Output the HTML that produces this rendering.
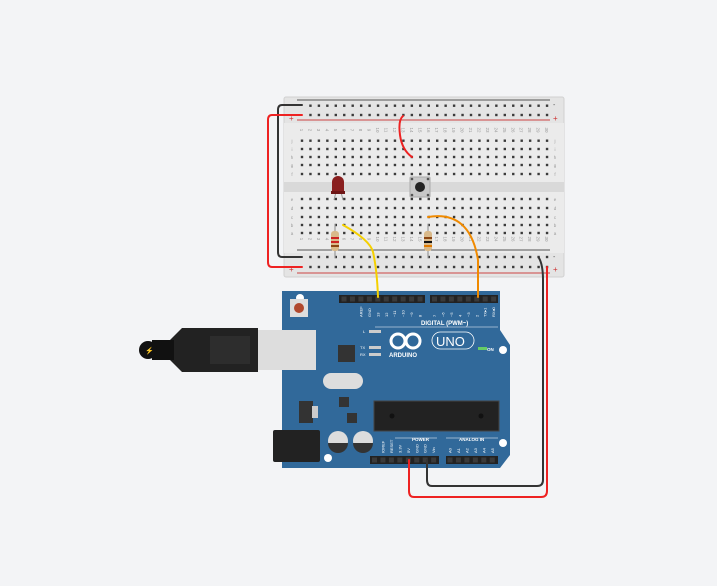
<!DOCTYPE html>
<html><head><meta charset="utf-8"><style>
html,body{margin:0;padding:0;background:#f3f4f6;}
svg{display:block;font-family:"Liberation Sans",sans-serif;}
</style></head><body>
<svg width="717" height="586" viewBox="0 0 717 586" xmlns="http://www.w3.org/2000/svg">
<rect x="284" y="97" width="280" height="180" rx="2" fill="#e4e4e4" stroke="#d0d0d0"/>
<rect x="284" y="123" width="280" height="130" fill="#ebebeb"/>
<rect x="284" y="182" width="280" height="10" fill="#d9d9d9"/>
<line x1="297" y1="100" x2="550" y2="100" stroke="#555" stroke-width="1"/>
<line x1="297" y1="120" x2="550" y2="120" stroke="#c44" stroke-width="1"/>
<line x1="297" y1="250" x2="550" y2="250" stroke="#555" stroke-width="1"/>
<line x1="297" y1="273" x2="550" y2="273" stroke="#c44" stroke-width="1"/>
<text x="289" y="107" font-size="7" fill="#555">-</text><text x="289" y="121" font-size="8" fill="#c33">+</text>
<text x="553" y="107" font-size="7" fill="#555">-</text><text x="553" y="121" font-size="8" fill="#c33">+</text>
<text x="289" y="259" font-size="7" fill="#555">-</text><text x="289" y="272" font-size="8" fill="#c33">+</text>
<text x="553" y="259" font-size="7" fill="#555">-</text><text x="553" y="272" font-size="8" fill="#c33">+</text>
<g id="holes" fill="#3a3a3a"></g>
<g font-size="4.5" fill="#999" text-anchor="middle" id="labels"></g>
<line x1="336" y1="192" x2="334" y2="200" stroke="#999" stroke-width="1"/>
<line x1="341" y1="192" x2="343" y2="200" stroke="#999" stroke-width="1"/>
<path d="M332 193 L332 182 A6 6 0 0 1 344 182 L344 193 Z" fill="#8a1f1f"/>
<rect x="331" y="191" width="14" height="3" fill="#6e1616"/>
<rect x="410" y="177" width="20" height="20" rx="1" fill="#c8c8c8" stroke="#aaa"/>
<circle cx="420" cy="187" r="5" fill="#222"/>
<circle cx="412" cy="179" r="1.3" fill="#555"/><circle cx="428" cy="179" r="1.3" fill="#555"/>
<circle cx="412" cy="195" r="1.3" fill="#555"/><circle cx="428" cy="195" r="1.3" fill="#555"/>
<line x1="335" y1="224" x2="335" y2="258" stroke="#999" stroke-width="1.2"/>
<rect x="331" y="231" width="8" height="20" rx="3" fill="#d9b98a"/>
<rect x="331" y="237" width="8" height="2" fill="#c22"/><rect x="331" y="241" width="8" height="2" fill="#c22"/><rect x="331" y="245" width="8" height="2" fill="#8b4513"/>
<line x1="428" y1="224" x2="428" y2="258" stroke="#999" stroke-width="1.2"/>
<rect x="424" y="231" width="8" height="20" rx="3" fill="#d9b98a"/>
<rect x="424" y="237" width="8" height="2" fill="#8b4513"/><rect x="424" y="241" width="8" height="2" fill="#111"/><rect x="424" y="245" width="8" height="2" fill="#e07a00"/>
<path d="M282 291 L500 291 L500 330 L510 345 L510 455 L500 468 L282 468 Z" fill="#31699a"/>
<circle cx="300" cy="298" r="4" fill="#fff"/><circle cx="503" cy="350" r="4" fill="#fff"/>
<circle cx="503" cy="443" r="4" fill="#fff"/><circle cx="328" cy="458" r="4" fill="#fff"/>
<rect x="290" y="299" width="18" height="18" fill="#ddd"/><circle cx="299" cy="308" r="5" fill="#b0482d"/>
<rect x="339" y="295" width="86" height="8" fill="#222"/>
<rect x="430" y="295" width="68" height="8" fill="#222"/>
<rect x="370" y="456" width="69" height="8" fill="#222"/>
<rect x="446" y="456" width="52" height="8" fill="#222"/>
<g id="pins" fill="#3a3a3a"></g>
<g id="plabels" font-size="4" fill="#fff"></g>
<text x="421" y="325" font-size="6" fill="#fff" font-weight="bold">DIGITAL (PWM~)</text>
<line x1="375" y1="327" x2="498" y2="327" stroke="#fff" stroke-width="0.6"/>
<g font-size="4.5" fill="#fff" font-weight="bold">
<text x="389" y="357" font-size="6">ARDUINO</text>
<text x="412" y="441">POWER</text>
<text x="459" y="441">ANALOG IN</text>
<text x="487" y="351">ON</text>
</g>
<line x1="395" y1="438" x2="437" y2="438" stroke="#fff" stroke-width="0.5"/>
<line x1="446" y1="438" x2="498" y2="438" stroke="#fff" stroke-width="0.5"/>
<g fill="none" stroke="#fff" stroke-width="3"><circle cx="398" cy="341" r="7"/><circle cx="413" cy="341" r="7"/></g>
<rect x="432" y="332" width="42" height="17" rx="8.5" fill="none" stroke="#fff" stroke-width="0.8"/>
<text x="436" y="346" font-size="13" fill="#fff">UNO</text>
<rect x="478" y="347" width="9" height="3" fill="#6c6"/>
<rect x="369" y="330" width="12" height="3" fill="#ccc"/><rect x="369" y="346" width="12" height="3" fill="#ccc"/><rect x="369" y="353" width="12" height="3" fill="#ccc"/>
<g font-size="4" fill="#fff"><text x="363" y="333">L</text><text x="360" y="349">TX</text><text x="360" y="356">RX</text></g>
<rect x="338" y="345" width="17" height="17" fill="#333"/>
<rect x="323" y="373" width="40" height="16" rx="8" fill="#ddd"/>
<rect x="374" y="401" width="125" height="30" fill="#222" stroke="#444"/>
<circle cx="392" cy="416" r="2.5" fill="#111"/><circle cx="481" cy="416" r="2.5" fill="#111"/>
<rect x="339" y="397" width="10" height="10" fill="#333"/>
<rect x="347" y="413" width="10" height="10" fill="#333"/>
<rect x="299" y="401" width="14" height="22" fill="#333"/><rect x="312" y="406" width="6" height="12" fill="#ccc"/>
<rect x="273" y="430" width="47" height="32" rx="2" fill="#222"/>
<circle cx="338" cy="441" r="10" fill="#ddd"/><path d="M328 443 A10 10 0 0 0 348 443 Z" fill="#333"/>
<circle cx="363" cy="441" r="10" fill="#ddd"/><path d="M353 443 A10 10 0 0 0 373 443 Z" fill="#333"/>
<rect x="258" y="330" width="58" height="40" fill="#ddd"/>
<path d="M182 328 L258 328 L258 372 L182 372 L170 360 L170 340 Z" fill="#222"/>
<rect x="210" y="336" width="40" height="28" fill="#2d2d2d"/>
<rect x="152" y="340" width="22" height="20" fill="#111"/>
<circle cx="148" cy="350" r="9" fill="#111"/>
<text x="145" y="353" font-size="7" fill="#fc0">⚡</text>
<g fill="none" stroke-width="2" stroke-linecap="round">
<path d="M302 105 L282 105 Q278 105 278 110 L278 252 Q278 257 282 257 L302 257" stroke="#333"/>
<path d="M302 115 L272 115 Q268 115 268 120 L268 262 Q268 267 272 267 L302 267" stroke="#e22"/>
<path d="M403 116 Q398 120 400 135 Q402 150 412 157" stroke="#e22"/>
<path d="M343 225 Q370 240 373 252 Q377 270 378 297" stroke="#f5d000"/>
<path d="M428 217 Q470 210 478 260 L478 297" stroke="#f08a00"/>
<path d="M539 258 Q543 265 543 280 L543 480 Q543 486 537 486 L432 486 Q427 486 427 480 L427 460" stroke="#333"/>
<path d="M547 267 Q547 275 547 290 L547 491 Q547 497 541 497 L414 497 Q409 497 409 491 L409 460" stroke="#e22"/>
</g>
</svg>
<script>
var ns="http://www.w3.org/2000/svg",g=document.getElementById("holes"),lb=document.getElementById("labels");
function sq(par,x,y,s){var r=document.createElementNS(ns,"rect");r.setAttribute("x",x-s/2);r.setAttribute("y",y-s/2);r.setAttribute("width",s);r.setAttribute("height",s);par.appendChild(r);}
function hole(x,y){sq(g,x,y,2.4);}
var rows=[140.7,149,157,165,174,199,208,217,225,233],rails=[105.7,115,257,267];
for(var c=0;c<30;c++){var x=302+c*8.45;
 rows.forEach(function(y){hole(x,y);});
 if(c>0) rails.forEach(function(y){hole(x,y);});
 [132,241].forEach(function(y){var t=document.createElementNS(ns,"text");t.setAttribute("x",x);t.setAttribute("y",y);t.setAttribute("transform","rotate(90 "+x+" "+(y-2)+")");t.textContent=c+1;lb.appendChild(t);});
}
var L="jihgfedcba";for(var i=0;i<10;i++){[292,555].forEach(function(x){var t=document.createElementNS(ns,"text");t.setAttribute("x",x);t.setAttribute("y",rows[i]+2);t.textContent=L[i];lb.appendChild(t);});}
var pg=document.getElementById("pins"),pl=document.getElementById("plabels");
function row(x0,n,y,labs,ly){for(var i=0;i<n;i++){var x=x0+i*8.45;sq(pg,x,y,5);
 if(labs&&labs[i]){var t=document.createElementNS(ns,"text");t.setAttribute("x",x+1.5);t.setAttribute("y",ly);t.setAttribute("transform","rotate(-90 "+(x+1.5)+" "+ly+")");t.textContent=labs[i];pl.appendChild(t);}}}
row(344,10,299,["","","AREF","GND","13","12","~11","~10","~9","8"],317);
row(434.5,8,299,["7","~6","~5","4","~3","2","TX▸1","RX◂0"],317);
row(374.5,8,460,["","IOREF","RESET","3.3V","5V","GND","GND","Vin"],453);
row(450,6,460,["A0","A1","A2","A3","A4","A5"],453);
</script>
</body></html>
